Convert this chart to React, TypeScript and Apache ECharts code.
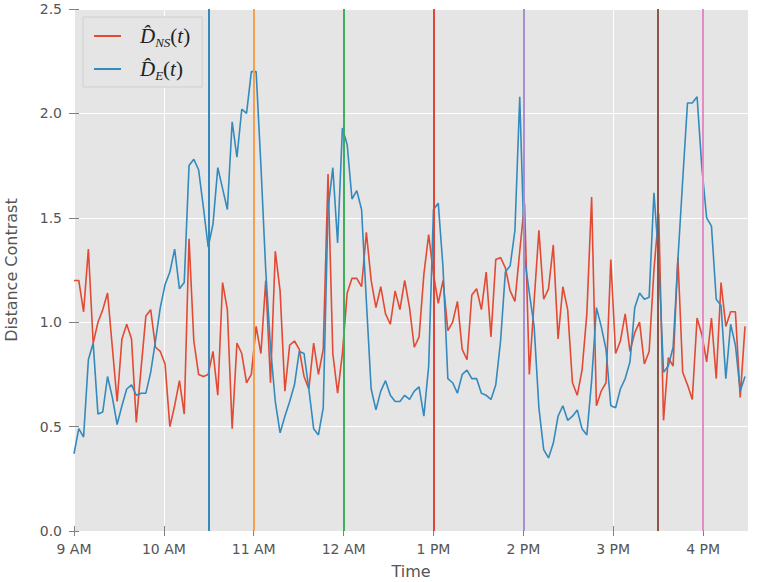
import React, { useEffect, useRef } from "react";
import * as echarts from "echarts";

// Sampling step of the series, in minutes after 9 AM
const SAMPLE_MINUTES = 3.2;

// D_NS(t) (red) values
const NS_VALUES = [
  1.20, 1.20, 1.05, 1.35, 0.90, 1.00, 1.06, 1.14, 0.88, 0.62,
  0.92, 0.99, 0.92, 0.52, 0.78, 1.03, 1.06, 0.88, 0.86, 0.80,
  0.50, 0.60, 0.72, 0.56, 1.40, 0.91, 0.75, 0.74, 0.75, 0.86,
  0.65, 1.19, 1.06, 0.49, 0.90, 0.85, 0.71, 0.75, 0.98, 0.85,
  1.20, 0.71, 1.34, 1.15, 0.67, 0.89, 0.91, 0.87, 0.74, 0.68,
  0.90, 0.75, 0.87, 1.71, 0.85, 0.66, 0.85, 1.14, 1.21, 1.21,
  1.17, 1.43, 1.20, 1.07, 1.17, 1.04, 0.99, 1.15, 1.06, 1.20,
  1.07, 0.88, 0.93, 1.23, 1.42, 1.23, 1.09, 1.20, 0.96, 1.00,
  1.10, 0.87, 0.82, 1.13, 1.16, 1.06, 1.24, 0.93, 1.30, 1.31,
  1.26, 1.15, 1.10, 1.34, 1.57, 0.75, 1.10, 1.44, 1.11, 1.16,
  1.37, 0.92, 1.17, 1.06, 0.71, 0.65, 0.77, 1.04, 1.60, 0.60,
  0.67, 0.71, 1.30, 0.85, 0.91, 1.04, 0.86, 0.95, 1.00, 0.80,
  0.86, 1.25, 1.52, 0.53, 0.83, 0.79, 1.31, 0.76, 0.70, 0.63,
  1.02, 0.94, 0.81, 1.02, 0.73, 1.19, 0.98, 1.05, 1.05, 0.64,
  0.98,
];

// D_E(t) (blue) values
const E_VALUES = [
  0.37, 0.49, 0.45, 0.82, 0.90, 0.56, 0.57, 0.74, 0.64, 0.51,
  0.60, 0.68, 0.70, 0.65, 0.66, 0.66, 0.76, 0.91, 1.07, 1.18,
  1.24, 1.35, 1.16, 1.19, 1.75, 1.78, 1.73, 1.55, 1.36, 1.47,
  1.74, 1.64, 1.54, 1.96, 1.79, 2.02, 2.00, 2.20, 2.20, 1.75,
  1.25, 0.88, 0.62, 0.47, 0.55, 0.62, 0.70, 0.86, 0.85, 0.68,
  0.49, 0.46, 0.59, 1.54, 1.74, 1.38, 1.93, 1.85, 1.59, 1.63,
  1.54, 1.10, 0.68, 0.58, 0.67, 0.72, 0.65, 0.62, 0.62, 0.65,
  0.63, 0.67, 0.69, 0.55, 0.79, 1.54, 1.57, 1.26, 0.73, 0.71,
  0.66, 0.75, 0.77, 0.73, 0.73, 0.66, 0.65, 0.63, 0.70, 0.91,
  1.24, 1.27, 1.44, 2.08, 1.31, 1.14, 0.98, 0.59, 0.39, 0.35,
  0.42, 0.55, 0.60, 0.53, 0.55, 0.58, 0.49, 0.46, 0.72, 1.07,
  0.98, 0.87, 0.60, 0.59, 0.68, 0.73, 0.81, 1.07, 1.14, 1.11,
  1.12, 1.62, 1.30, 0.76, 0.79, 0.88, 1.30, 1.68, 2.05, 2.05,
  2.08, 1.74, 1.50, 1.46, 1.11, 1.08, 0.73, 0.99, 0.89, 0.67,
  0.74,
];

// Hour tick labels (minutes after 9 AM: 0, 60, ...)
const HOUR_TICKS = [0, 60, 120, 180, 240, 300, 360, 420];
const HOUR_LABELS = ["9 AM", "10 AM", "11 AM", "12 AM", "1 PM", "2 PM", "3 PM", "4 PM"];
const X_MAX = 450;
const Y_TICKS = [0, 0.5, 1.0, 1.5, 2.0, 2.5];

// Event markers (minutes after 9 AM) and their colours
const EVENT_TIMES = [90, 120, 180, 240, 300, 390, 420];
const EVENT_COLORS = ["#348ABD", "#F5A04F", "#3DAE5C", "#E0453A", "#AB8ECF", "#8C5649", "#E58CC6"];

const RED = "#E24A33";
const BLUE = "#348ABD";
const LABEL_COLOR = "#555555";
const TICK_COLOR = "#808080";
const FONT = "'DejaVu Sans', sans-serif";

export default function App() {
  const ref = useRef<HTMLDivElement>(null);

  useEffect(() => {
    if (!ref.current) return;
    const chart = echarts.init(ref.current, undefined, { renderer: "svg" });
    const nsData = NS_VALUES.map((v, i) => [i * SAMPLE_MINUTES, v]);
    const eData = E_VALUES.map((v, i) => [i * SAMPLE_MINUTES, v]);

    const serif = "'Liberation Serif', serif";
    const legendRich = {
      d: { fontFamily: serif, fontStyle: "italic", fontSize: 21, color: "#222", lineHeight: 26, padding: [0, 0, 0, 14] },
      s: { fontFamily: serif, fontStyle: "italic", fontSize: 13, color: "#222", lineHeight: 15, verticalAlign: "bottom" },
      p: { fontFamily: serif, fontSize: 21, color: "#222", lineHeight: 26 },
      t: { fontFamily: serif, fontStyle: "italic", fontSize: 21, color: "#222", lineHeight: 26 },
    };

    chart.setOption({
      animation: false,
      backgroundColor: "#FFFFFF",
      grid: {
        left: 74,
        right: 9,
        top: 9,
        bottom: 51,
        show: true,
        backgroundColor: "#E5E5E5",
        borderWidth: 0,
        containLabel: false,
        outerBoundsMode: "none",
      },
      legend: {
        show: true,
        orient: "vertical",
        left: 83,
        top: 17,
        padding: [6, 12, 5, 11],
        itemGap: 7,
        itemWidth: 27,
        itemHeight: 2,
        icon: "rect",
        backgroundColor: "#E5E5E5",
        borderColor: "#CFCFCF",
        borderWidth: 1,
        borderRadius: 0,
        data: ["D_NS(t)", "D_E(t)"],
        formatter: (name: string) =>
          name === "D_NS(t)"
            ? "{d|D\u0302}{s|NS}{p|(}{t|t}{p|)}"
            : "{d|D\u0302}{s|E}{p|(}{t|t}{p|)}",
        textStyle: { rich: legendRich, lineHeight: 26 },
      },
      xAxis: [
        {
          type: "value",
          min: 0,
          max: X_MAX,
          interval: 60,
          position: "bottom",
          axisLine: { show: false },
          axisTick: { show: true, length: 5, lineStyle: { color: TICK_COLOR }, customValues: HOUR_TICKS },
          axisLabel: {
            color: LABEL_COLOR,
            fontFamily: FONT,
            fontSize: 14,
            margin: 11,
            customValues: HOUR_TICKS,
            formatter: (v: number) => HOUR_LABELS[HOUR_TICKS.indexOf(Math.round(v))] ?? "",
          },
          splitLine: { show: true, lineStyle: { color: "#FFFFFF", width: 1 } },
          name: "Time",
          nameLocation: "middle",
          nameGap: 32,
          nameTextStyle: { color: LABEL_COLOR, fontFamily: FONT, fontSize: 16 },
        },
        {
          type: "value",
          min: 0,
          max: X_MAX,
          interval: 60,
          position: "top",
          axisLine: { show: false },
          axisTick: { show: true, length: 5, lineStyle: { color: TICK_COLOR }, customValues: HOUR_TICKS },
          axisLabel: { show: false },
          splitLine: { show: false },
        },
      ],
      yAxis: [
        {
          type: "value",
          min: 0,
          max: 2.5,
          interval: 0.5,
          position: "left",
          axisLine: { show: false },
          axisTick: { show: true, length: 5, lineStyle: { color: TICK_COLOR }, customValues: Y_TICKS },
          axisLabel: {
            color: LABEL_COLOR,
            fontFamily: FONT,
            fontSize: 14,
            margin: 12,
            formatter: (v: number) => v.toFixed(1),
          },
          splitLine: { show: true, lineStyle: { color: "#FFFFFF", width: 1 } },
          name: "Distance Contrast",
          nameLocation: "middle",
          nameGap: 55,
          nameTextStyle: { color: LABEL_COLOR, fontFamily: FONT, fontSize: 16 },
        },
        {
          type: "value",
          min: 0,
          max: 2.5,
          interval: 0.5,
          position: "right",
          axisLine: { show: false },
          axisTick: { show: true, length: 5, lineStyle: { color: TICK_COLOR }, customValues: Y_TICKS },
          axisLabel: { show: false },
          splitLine: { show: false },
        },
      ],
      series: [
        {
          name: "D_NS(t)",
          type: "line",
          xAxisIndex: 0,
          yAxisIndex: 0,
          data: nsData,
          symbol: "none",
          color: RED,
          lineStyle: { color: RED, width: 1.6 },
          z: 2,
        },
        {
          name: "D_E(t)",
          type: "line",
          xAxisIndex: 0,
          yAxisIndex: 0,
          data: eData,
          symbol: "none",
          color: BLUE,
          lineStyle: { color: BLUE, width: 1.6 },
          z: 3,
          markLine: {
            silent: true,
            symbol: ["none", "none"],
            label: { show: false },
            data: EVENT_TIMES.map((t, k) => ({
              xAxis: t,
              lineStyle: { color: EVENT_COLORS[k], width: 2, type: "solid" },
            })),
          },
        },
      ],
    });

    return () => chart.dispose();
  }, []);

  return (
    <div
      ref={ref}
      style={{ position: "fixed", left: 0, top: 0, width: 757, height: 582 }}
    />
  );
}
